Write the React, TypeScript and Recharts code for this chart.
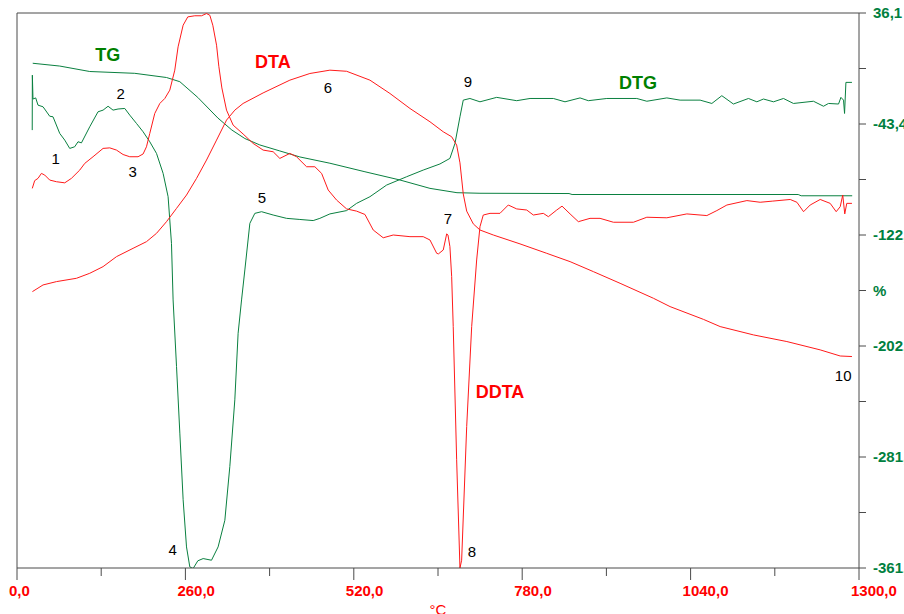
import React from "react";
import { ComposedChart, Line, XAxis, YAxis, ReferenceLine, ReferenceDot } from "recharts";

// Temperature (°C) vs TG (%)
const TG: [number, number][] = [
  [24.3, 0.1], [66.0, -1.9], [112.3, -5.8], [181.8, -7.1], [230.8, -10.1], [251.4, -13.1],
  [279.2, -24.4], [310.1, -39.1], [331.7, -47.7], [351.8, -53.8], [374.9, -58.4], [405.8, -62.7],
  [436.7, -67.0], [483.1, -71.5], [537.2, -77.6], [591.2, -83.5], [637.6, -89.5], [679.3, -92.6],
  [714.8, -93.0], [852.3, -93.2], [857.0, -93.9], [1206.1, -93.9], [1210.7, -94.8], [1289.5, -94.8],
];

// Relative signals (0..100 of the plot height)
const DTG: [number, number][] = [
  [23.5, 78.9], [23.7, 88.8], [24.7, 84.5], [28.9, 84.7], [32.4, 83.4], [40.2, 83.1], [50.5, 81.4],
  [55.6, 81.3], [66.0, 78.3], [73.7, 77.1], [81.4, 75.6], [89.1, 75.9], [94.2, 76.8], [99.5, 76.6],
  [112.3, 79.5], [125.1, 82.2], [132.9, 82.5], [140.6, 83.2], [148.3, 82.5], [156.0, 82.7],
  [166.4, 82.8], [174.1, 81.6], [184.5, 80.1], [194.7, 78.6], [205.0, 76.8], [215.4, 74.7],
  [225.6, 71.1], [233.3, 66.9], [238.5, 58.5], [241.0, 48.3], [246.3, 36.3], [251.4, 24.3],
  [256.5, 12.3], [261.7, 3.8], [266.8, 0.2], [271.9, -0.1], [279.2, 1.3], [287.4, 1.7],
  [300.3, 1.4], [310.5, 3.8], [320.9, 8.6], [328.6, 18.3], [336.3, 30.3], [341.4, 42.3],
  [346.7, 48.3], [351.8, 53.7], [359.5, 62.1], [367.2, 63.9], [377.6, 64.2], [395.5, 63.6],
  [416.2, 63.0], [436.7, 62.8], [457.3, 62.6], [467.6, 63.0], [483.1, 63.8], [508.9, 64.4],
  [524.3, 65.7], [544.9, 66.9], [570.7, 69.0], [601.6, 70.5], [627.2, 71.7], [653.0, 72.8],
  [668.4, 73.8], [676.2, 76.5], [683.9, 81.3], [689.0, 84.3], [699.3, 84.6], [714.8, 84.0],
  [740.6, 84.8], [771.5, 84.2], [792.1, 84.6], [828.1, 84.6], [846.1, 84.0], [869.3, 84.7],
  [882.1, 84.2], [910.6, 84.6], [956.9, 84.6], [972.4, 84.1], [1003.3, 84.7], [1023.8, 84.3],
  [1054.7, 84.3], [1072.8, 83.7], [1088.2, 85.1], [1106.1, 83.6], [1129.3, 84.6], [1142.3, 84.0],
  [1152.5, 84.5], [1168.0, 84.0], [1183.4, 84.6], [1198.8, 83.7], [1229.7, 84.1], [1245.2, 83.2],
  [1252.9, 83.7], [1268.4, 83.6], [1272.1, 84.8], [1276.1, 84.3], [1277.7, 81.9], [1279.8, 87.5],
  [1289.1, 87.5],
];

const DTA: [number, number][] = [
  [23.8, 49.8], [40.2, 51.0], [60.9, 51.6], [91.8, 52.2], [112.3, 53.1], [132.9, 54.3],
  [153.6, 56.1], [179.2, 57.6], [199.9, 58.8], [215.4, 60.3], [230.8, 62.4], [246.3, 64.8],
  [261.7, 67.2], [277.2, 70.2], [292.6, 73.5], [308.1, 77.1], [323.5, 80.7], [336.3, 82.5],
  [349.1, 83.7], [380.0, 85.6], [421.3, 87.9], [452.2, 89.1], [483.1, 89.7], [508.9, 89.5],
  [544.9, 87.9], [575.8, 85.5], [606.7, 82.8], [637.6, 80.4], [658.1, 78.6], [671.1, 77.7],
  [678.8, 76.2], [683.9, 73.0], [689.0, 67.4], [694.3, 64.3], [704.5, 62.0], [714.8, 60.9],
  [735.4, 60.0], [776.6, 58.4], [817.9, 56.7], [853.9, 55.2], [889.9, 53.4], [931.1, 51.3],
  [982.6, 48.6], [1008.3, 47.1], [1059.8, 44.8], [1085.6, 43.5], [1137.0, 42.0], [1188.6, 40.8],
  [1240.1, 39.3], [1271.0, 38.2], [1289.1, 38.1],
];

const DDTA: [number, number][] = [
  [23.6, 68.4], [27.3, 69.8], [32.4, 70.2], [37.7, 71.1], [42.8, 70.8], [50.5, 69.9], [60.9, 69.6],
  [73.7, 69.4], [84.0, 70.2], [96.9, 71.7], [104.6, 72.9], [117.4, 74.1], [132.9, 75.6],
  [143.2, 75.7], [153.6, 75.3], [163.8, 74.5], [174.1, 74.1], [186.9, 74.1], [194.7, 74.6],
  [199.9, 75.9], [205.0, 78.3], [212.7, 81.9], [220.5, 83.7], [228.2, 84.6], [235.9, 86.1],
  [243.6, 89.7], [248.7, 93.9], [256.5, 97.8], [263.7, 99.3], [274.5, 99.5], [284.9, 99.5],
  [292.6, 99.9], [297.7, 99.6], [302.3, 97.8], [308.1, 94.2], [311.6, 90.4], [316.3, 86.5],
  [323.5, 82.5], [333.7, 79.8], [349.1, 78.2], [364.6, 76.5], [380.0, 75.3], [395.5, 75.0],
  [405.8, 73.8], [421.3, 74.7], [431.6, 74.1], [447.1, 72.3], [459.9, 72.3], [470.3, 71.1],
  [480.5, 68.1], [493.4, 66.3], [508.9, 64.7], [524.3, 64.3], [537.2, 63.7], [550.0, 60.9],
  [565.4, 59.5], [580.9, 60.0], [606.7, 59.7], [627.2, 59.7], [637.6, 59.1], [648.0, 56.7],
  [650.7, 56.6], [658.1, 57.3], [663.4, 60.2], [665.4, 60.0], [668.4, 57.9], [671.1, 52.5],
  [673.5, 43.5], [678.8, 19.5], [683.9, 0.0], [686.5, 1.4], [694.3, 25.5], [702.0, 43.5],
  [709.7, 55.5], [714.8, 61.5], [719.9, 63.6], [730.3, 63.9], [745.7, 63.9], [758.5, 65.4],
  [771.5, 64.7], [787.0, 64.5], [797.2, 63.6], [812.6, 63.9], [820.4, 63.3], [833.3, 64.5],
  [841.5, 65.2], [853.9, 63.8], [866.7, 62.4], [884.7, 63.0], [900.2, 63.0], [920.8, 62.3],
  [951.7, 62.3], [972.4, 63.2], [1003.3, 63.1], [1034.2, 63.8], [1065.1, 63.5], [1080.5, 64.4],
  [1096.0, 65.4], [1126.9, 66.2], [1147.4, 65.9], [1166.0, 66.1], [1193.8, 66.4], [1204.1, 65.9],
  [1214.4, 64.2], [1224.6, 65.4], [1240.1, 66.4], [1255.5, 65.7], [1264.8, 64.2], [1271.0, 65.1],
  [1274.9, 67.2], [1278.0, 63.8], [1281.1, 65.7], [1289.1, 65.7],
];

const TEMP_TICKS = [0, 130, 260, 390, 520, 650, 780, 910, 1040, 1170, 1300];
const PCT_TICKS = [36.1, -3.65, -43.4, -83.15, -122.9, -162.65, -202.4, -242.15, -281.9, -321.65, -361.4];
const PCT_LABELS = ["36,1", "", "-43,4", "", "-122,9", "%", "-202,4", "", "-281,9", "", "-361,4"];

// annotations: [text, temperature, signal, colour, bold]
const NOTES: [string, number, number, string, boolean][] = [
  ["TG", 140.1, 92.4, "#008000", true],
  ["DTA", 395.0, 91.2, "#ff0000", true],
  ["DTG", 958.9, 87.4, "#008000", true],
  ["DDTA", 745.7, 31.7, "#ff0000", true],
  ["1", 59.8, 73.7, "#000", false],
  ["2", 160.2, 85.4, "#000", false],
  ["3", 178.7, 71.4, "#000", false],
  ["4", 240.5, 3.2, "#000", false],
  ["5", 378.0, 66.8, "#000", false],
  ["6", 480.0, 86.5, "#000", false],
  ["7", 665.4, 62.9, "#000", false],
  ["8", 702.5, 2.9, "#000", false],
  ["9", 696.3, 87.6, "#000", false],
  ["10", 1275.6, 34.6, "#000", false],
];

const toRows = (arr: [number, number][]) => arr.map(([t, v]) => ({ t, v }));

const FONT = "'Liberation Sans', Arial, sans-serif";
const GREEN_LINE = "#0a8040";
const RED_LINE = "#ff1a1a";
const AXIS = "#4a4a4a";

const XTick = (props: any) => {
  const { x, y, payload } = props;
  const v = payload.value as number;
  const major = v % 260 === 0;
  return (
    <g>
      <line x1={x} y1={y} x2={x} y2={y + (major ? 12 : 8)} stroke={AXIS} />
      {major && (
        <text x={x - 8} y={y + 28} fill="#ff0000" fontSize={15} fontWeight="bold" fontFamily={FONT}>
          {v.toFixed(1).replace(".", ",")}
        </text>
      )}
    </g>
  );
};

const YTick = (props: any) => {
  const { x, y, payload } = props;
  const idx = PCT_TICKS.findIndex((p) => Math.abs(p - payload.value) < 0.01);
  const label = idx >= 0 ? PCT_LABELS[idx] : "";
  return (
    <g>
      <line x1={x} y1={y} x2={x + 7} y2={y} stroke={AXIS} />
      {label && (
        <text x={x + 14} y={y} dy="0.35em" fill="#008040" fontSize={15} fontWeight="bold" fontFamily={FONT}>
          {label}
        </text>
      )}
    </g>
  );
};

export default function App() {
  return (
    <div style={{ position: "absolute", left: 0, top: 0, width: 904, height: 614, background: "#fff" }}>
      <ComposedChart width={904} height={614} margin={{ top: 13, right: 0, bottom: 0, left: 17 }}>
        <XAxis
          type="number"
          dataKey="t"
          domain={[0, 1300]}
          ticks={TEMP_TICKS}
          interval={0}
          allowDataOverflow
          height={46}
          tickSize={0}
          tickMargin={0}
          tickLine={false}
          axisLine={{ stroke: AXIS }}
          tick={<XTick />}
          label={(p: any) => {
            const vb = p.viewBox || {};
            return (
              <text x={vb.x + vb.width / 2} y={vb.y + 47} textAnchor="middle" fill="#ff0000" fontSize={15} fontFamily={FONT}>
                °C
              </text>
            );
          }}
        />
        <YAxis
          yAxisId="pct"
          orientation="right"
          type="number"
          domain={[-361.4, 36.1]}
          ticks={PCT_TICKS}
          interval={0}
          allowDataOverflow
          width={45}
          tickSize={0}
          tickMargin={0}
          tickLine={false}
          axisLine={{ stroke: AXIS }}
          tick={<YTick />}
        />
        <YAxis yAxisId="sig" hide type="number" domain={[0, 100]} allowDataOverflow />
        <ReferenceLine yAxisId="pct" y={36.1} stroke={AXIS} />
        <ReferenceLine yAxisId="pct" x={0} stroke={AXIS} />
        <Line yAxisId="pct" data={toRows(TG)} dataKey="v" stroke={GREEN_LINE} strokeWidth={1} dot={false} isAnimationActive={false} type="linear" />
        <Line yAxisId="sig" data={toRows(DTG)} dataKey="v" stroke={GREEN_LINE} strokeWidth={1} dot={false} isAnimationActive={false} type="linear" />
        <Line yAxisId="sig" data={toRows(DTA)} dataKey="v" stroke={RED_LINE} strokeWidth={1} dot={false} isAnimationActive={false} type="linear" />
        <Line yAxisId="sig" data={toRows(DDTA)} dataKey="v" stroke={RED_LINE} strokeWidth={1} dot={false} isAnimationActive={false} type="linear" />
        {NOTES.map(([txt, t, s, color, bold]) => (
          <ReferenceDot
            key={txt}
            yAxisId="sig"
            x={t}
            y={s}
            r={0}
            shape={(p: any) => (
              <text
                x={p.cx}
                y={p.cy}
                dy="0.35em"
                textAnchor="middle"
                fill={color}
                fontSize={bold ? 18 : 15}
                fontWeight={bold ? "bold" : "normal"}
                fontFamily={FONT}
              >
                {txt}
              </text>
            )}
          />
        ))}
      </ComposedChart>
    </div>
  );
}
